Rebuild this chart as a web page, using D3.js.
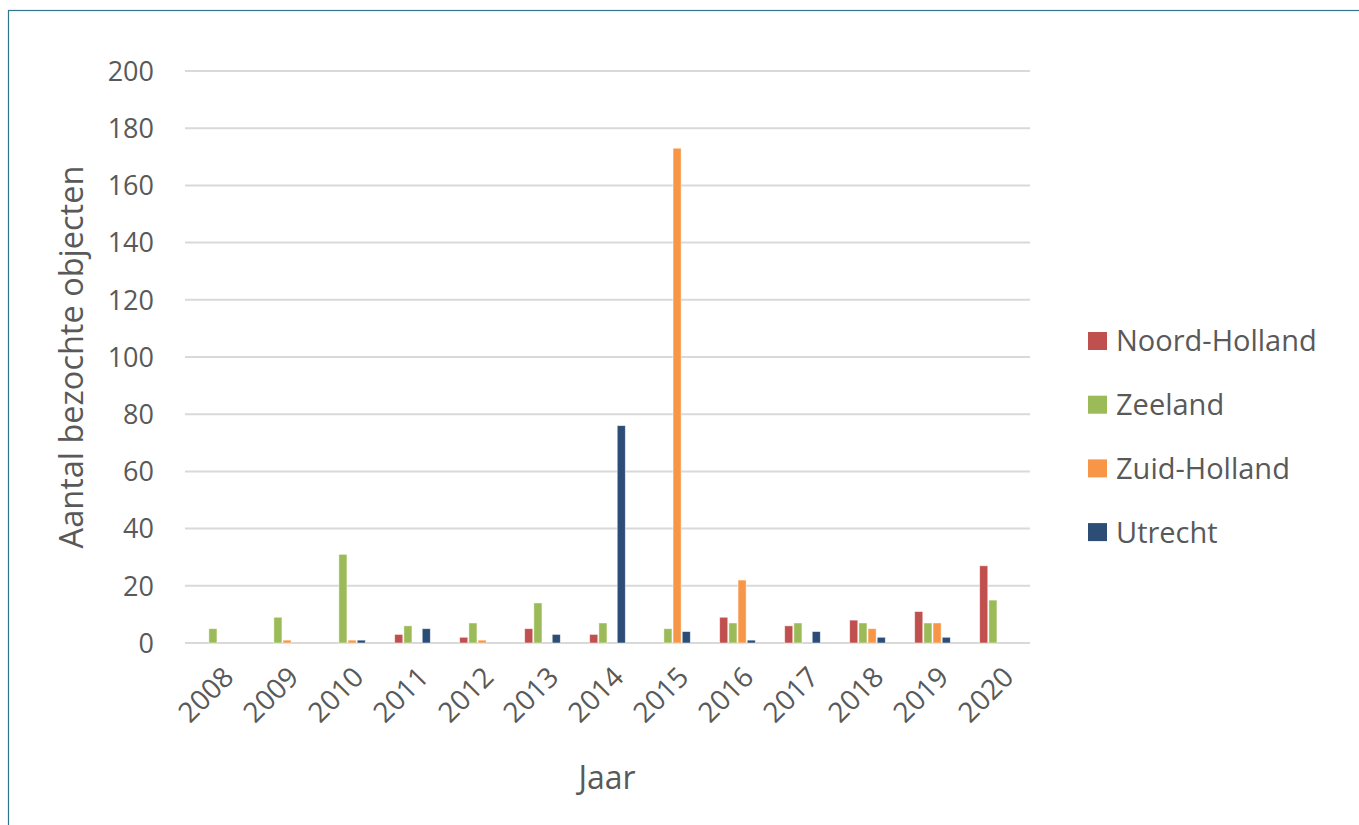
<!DOCTYPE html>
<html>
<head>
<meta charset="utf-8">
<script src="https://cdn.jsdelivr.net/npm/d3@7"></script>
<style>
  body { margin: 0; background: #fff; }
  text { font-family: "Open Sans", sans-serif; fill: #595959; }
</style>
</head>
<body>
<svg id="chart" width="1359" height="825"></svg>
<script>
// data
let years = ["2008", "2009", "2010", "2011", "2012", "2013", "2014",
             "2015", "2016", "2017", "2018", "2019", "2020"];
let provinces = ["Noord-Holland", "Zeeland", "Zuid-Holland", "Utrecht"];
let noordHolland = [0, 0, 0, 3, 2, 5, 3, 0, 9, 6, 8, 11, 27];
let zeeland      = [5, 9, 31, 6, 7, 14, 7, 5, 7, 7, 7, 7, 15];
let zuidHolland  = [0, 1, 1, 0, 1, 0, 0, 173, 22, 0, 5, 7, 0];
let utrecht      = [0, 0, 1, 5, 0, 3, 76, 4, 1, 4, 2, 2, 0];
let yTicks = [0, 20, 40, 60, 80, 100, 120, 140, 160, 180, 200];

let colors = ["#c0504d", "#9bbb59", "#f79646", "#2c4d75"];
let series = [noordHolland, zeeland, zuidHolland, utrecht];

let svg = d3.select("#chart");

// frame
svg.append("rect")
  .attr("x", 8.5).attr("y", 10.5)
  .attr("width", 1400).attr("height", 900)
  .attr("fill", "none")
  .attr("stroke", "#31758c")
  .attr("stroke-width", 1.2);

let plotLeft = 185, plotRight = 1030, plotTop = 71, plotBottom = 643;

let x = d3.scaleBand()
  .domain(years)
  .range([plotLeft, plotRight]);

let xInner = d3.scaleBand()
  .domain(provinces)
  .range([0, x.bandwidth()])
  .paddingInner(0.12)
  .paddingOuter(1.6);

let y = d3.scaleLinear()
  .domain([0, 200])
  .range([plotBottom, plotTop]);

// gridlines
svg.append("g")
  .selectAll("line")
  .data(yTicks)
  .join("line")
    .attr("x1", plotLeft).attr("x2", plotRight)
    .attr("y1", d => y(d)).attr("y2", d => y(d))
    .attr("stroke", "#d9d9d9")
    .attr("stroke-width", 2);

// y labels
svg.append("g")
  .selectAll("text")
  .data(yTicks)
  .join("text")
    .attr("x", 154)
    .attr("y", d => y(d))
    .attr("dy", "0.36em")
    .attr("text-anchor", "end")
    .style("font-size", "27px")
    .text(d => d);

// bars
let groups = svg.append("g")
  .selectAll("g")
  .data(provinces)
  .join("g")
    .attr("fill", (d, i) => colors[i]);

groups.selectAll("rect")
  .data((p, i) => series[i].map((v, j) => ({ year: years[j], prov: p, value: v }))
                           .filter(d => d.value > 0))
  .join("rect")
    .attr("x", d => x(d.year) + xInner(d.prov))
    .attr("y", d => y(d.value))
    .attr("width", xInner.bandwidth())
    .attr("height", d => y(0) - y(d.value))
    .attr("stroke", "#fff")
    .attr("stroke-opacity", 0.6)
    .attr("stroke-width", 0.8);

// x labels
svg.append("g")
  .selectAll("text")
  .data(years)
  .join("text")
    .attr("transform", d => "translate(" + (x(d) + x.bandwidth() / 2 + 3) + ",664) rotate(-45)")
    .attr("text-anchor", "end")
    .attr("dy", "0.75em")
    .style("font-size", "28px")
    .text(d => d);

// axis titles
svg.append("text")
  .attr("transform", "translate(72,357) rotate(-90)")
  .attr("text-anchor", "middle")
  .attr("dy", "0.35em")
  .style("font-size", "32.5px")
  .text("Aantal bezochte objecten");

svg.append("text")
  .attr("x", 607).attr("y", 778)
  .attr("text-anchor", "middle")
  .attr("dy", "0.35em")
  .style("font-size", "32px")
  .text("Jaar");

// legend
let legend = svg.append("g")
  .selectAll("g")
  .data(provinces)
  .join("g")
    .attr("transform", (d, i) => "translate(1088," + (341 + i * 63.7) + ")");

legend.append("rect")
  .attr("x", 0).attr("y", -9)
  .attr("width", 19).attr("height", 18)
  .attr("fill", (d, i) => colors[i]);

legend.append("text")
  .attr("x", 28)
  .attr("dy", "0.36em")
  .style("font-size", "29px")
  .text(d => d);
</script>
</body>
</html>
